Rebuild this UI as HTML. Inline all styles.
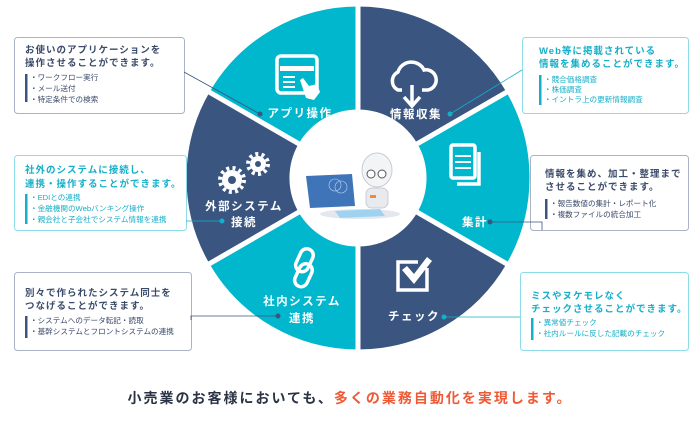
<!DOCTYPE html>
<html><head><meta charset="utf-8"><style>
html,body{margin:0;padding:0;background:#fff;}
svg{display:block;font-family:"Liberation Sans","Noto Sans CJK JP",sans-serif;}
.lab{fill:#fff;font-size:11.5px;font-weight:bold;letter-spacing:1.5px;text-anchor:middle;}
.hn{fill:#3a4a6a;font-size:9.5px;font-weight:bold;letter-spacing:1px;}
.ht{fill:#14afc8;font-size:9.5px;font-weight:bold;letter-spacing:1px;}
.bn{fill:#3a4a6a;font-size:7.6px;}
.bt{fill:#14afc8;font-size:7.6px;}
</style></head><body>
<svg width="700" height="429" viewBox="0 0 700 429">
<g stroke="#fff" stroke-width="5" stroke-linejoin="round">
<path d="M508.7,91 A174,174 0 0 0 358,4 L358,112 A66,66 0 0 1 415.2,145 Z" fill="#3a5680"/>
<path d="M358,4 A174,174 0 0 0 207.3,91 L300.8,145 A66,66 0 0 1 358,112 Z" fill="#00b7cd"/>
<path d="M207.3,91 A174,174 0 0 0 207.3,265 L300.8,211 A66,66 0 0 1 300.8,145 Z" fill="#3a5680"/>
<path d="M207.3,265 A174,174 0 0 0 358,352 L358,244 A66,66 0 0 1 300.8,211 Z" fill="#00b7cd"/>
<path d="M358,352 A174,174 0 0 0 508.7,265 L415.2,211 A66,66 0 0 1 358,244 Z" fill="#3a5680"/>
<path d="M508.7,265 A174,174 0 0 0 508.7,91 L415.2,145 A66,66 0 0 1 415.2,211 Z" fill="#00b7cd"/>
</g>
<circle cx="357" cy="178" r="66" fill="#fff"/>
<ellipse cx="360" cy="214" rx="40" ry="5" fill="#e3e8ee"/>
<polygon points="306,176 352,174 355,206 310,208" fill="#3f74b8"/>
<circle cx="335" cy="185" r="6" fill="none" stroke="#bcd6ee" stroke-width="0.6"/>
<circle cx="341" cy="187" r="6" fill="none" stroke="#bcd6ee" stroke-width="0.6"/>
<polygon points="335,211 380,209 385,216 340,218" fill="#9fd2f0"/>
<ellipse cx="377" cy="170" rx="15" ry="17" fill="#f2f4f6" stroke="#c8ccd2" stroke-width="1"/>
<circle cx="371" cy="174" r="4" fill="#fff" stroke="#555" stroke-width="1"/>
<circle cx="382" cy="174" r="4" fill="#fff" stroke="#555" stroke-width="1"/>
<rect x="366" y="188" width="22" height="20" rx="6" fill="#e8eaee" stroke="#c8ccd2"/>
<rect x="370" y="195" width="6" height="3" fill="#f08a3a"/>
<g fill="none" stroke="#fff" stroke-width="3.5">
<rect x="277" y="56" width="40" height="37" rx="4"/>
<path d="M412,105 V85 M404,97 L412,106 L420,97"/>
<path d="M402,90 H398 A10,10 0 0 1 398,72 A14,14 0 0 1 424,70 A9,9 0 0 1 428,90 H422"/>
<rect x="451" y="145" width="24" height="33" rx="2"/>
<path d="M479,152 V184 H457"/>
<rect x="298" y="248" width="13" height="24" rx="6.5" transform="rotate(25 304 260)"/>
<rect x="297" y="263" width="13" height="24" rx="6.5" transform="rotate(25 303 275)"/>
<path d="M427,268 V290 H398 V262 H418"/>
</g>
<g fill="#fff">
<rect x="280" y="66" width="34" height="5"/>
<rect x="283" y="76" width="12" height="2"/><rect x="283" y="81" width="12" height="2"/><rect x="283" y="86" width="12" height="2"/>
<path d="M300,80 l3,-2 l6,8 l8,-2 l3,8 l-6,8 l-8,-2 z"/>
<rect x="455" y="155" width="16" height="2"/><rect x="455" y="161" width="16" height="2"/><rect x="455" y="167" width="16" height="2"/>
<path d="M402,270 l5,-4 l7,8 l13,-17 l5,4 l-18,23 z"/>
<circle cx="232" cy="180" r="10"/><circle cx="258" cy="164" r="8"/>
</g>
<circle cx="232" cy="180" r="4" fill="#3a5680"/><circle cx="258" cy="164" r="3" fill="#3a5680"/>
<g stroke="#fff" stroke-width="4" stroke-dasharray="3 3.3" fill="none">
<circle cx="232" cy="180" r="12"/><circle cx="258" cy="164" r="10"/>
</g>
<text class="lab" x="300" y="117">アプリ操作</text>
<text class="lab" x="416" y="118">情報収集</text>
<text class="lab" x="244" y="210">外部システム</text>
<text class="lab" x="244" y="226">接続</text>
<text class="lab" x="475" y="226">集計</text>
<text class="lab" x="302" y="305">社内システム</text>
<text class="lab" x="302" y="322">連携</text>
<text class="lab" x="414" y="320">チェック</text>
<g fill="#fff" stroke-width="1">
<rect x="14.5" y="37.5" width="170" height="76" rx="3" stroke="#a8b3c6"/>
<rect x="14.5" y="155.5" width="172" height="75" rx="3" stroke="#8fdbe8"/>
<rect x="14.5" y="272.5" width="177" height="78" rx="3" stroke="#a8b3c6"/>
<rect x="522.5" y="37.5" width="166" height="76" rx="3" stroke="#8fdbe8"/>
<rect x="530.5" y="155.5" width="158" height="75" rx="3" stroke="#a8b3c6"/>
<rect x="520.5" y="272.5" width="168" height="78" rx="3" stroke="#8fdbe8"/>
</g>
<g stroke-width="0.8" fill="none">
<path d="M184,72 L260,114" stroke="#3a5680"/>
<path d="M186,221 H222" stroke="#14afc8"/>
<path d="M191,320 V316 H278" stroke="#3a5680"/>
<path d="M522,70 L450,114" stroke="#14afc8"/>
<path d="M490,222 H542 V230" stroke="#3a5680"/>
<path d="M444,317 H520" stroke="#14afc8"/>
</g>
<g>
<circle cx="260" cy="114" r="2.5" fill="#3a5680"/>
<circle cx="222" cy="221" r="2.5" fill="#14afc8"/>
<circle cx="278" cy="316" r="2.5" fill="#3a5680"/>
<circle cx="450" cy="114" r="2.5" fill="#14afc8"/>
<circle cx="490" cy="222" r="2.5" fill="#3a5680"/>
<circle cx="444" cy="317" r="2.5" fill="#14afc8"/>
</g>
<text class="hn" x="25" y="53">お使いのアプリケーションを</text>
<text class="hn" x="25" y="66">操作させることができます。</text>
<rect x="25" y="74" width="2.5" height="28" fill="#3a5680"/>
<text class="bn" x="30" y="80">・ワークフロー実行</text>
<text class="bn" x="30" y="91">・メール送付</text>
<text class="bn" x="30" y="102">・特定条件での検索</text>

<text class="ht" x="25" y="173">社外のシステムに接続し、</text>
<text class="ht" x="25" y="187">連携・操作することができます。</text>
<rect x="25" y="194" width="2.5" height="30" fill="#14afc8"/>
<text class="bt" x="30" y="200">・EDIとの連携</text>
<text class="bt" x="30" y="211">・金融機関のWebバンキング操作</text>
<text class="bt" x="30" y="222">・親会社と子会社でシステム情報を連携</text>

<text class="hn" x="25" y="296">別々で作られたシステム同士を</text>
<text class="hn" x="25" y="309">つなげることができます。</text>
<rect x="25" y="316" width="2.5" height="22" fill="#3a5680"/>
<text class="bn" x="30" y="323">・システムへのデータ転記・読取</text>
<text class="bn" x="30" y="334">・基幹システムとフロントシステムの連携</text>

<text class="ht" x="539" y="54">Web等に掲載されている</text>
<text class="ht" x="539" y="67">情報を集めることができます。</text>
<rect x="539" y="75" width="2.5" height="30" fill="#14afc8"/>
<text class="bt" x="544" y="82">・競合価格調査</text>
<text class="bt" x="544" y="92">・株価調査</text>
<text class="bt" x="544" y="102">・イントラ上の更新情報調査</text>

<text class="hn" x="545" y="177">情報を集め、加工・整理まで</text>
<text class="hn" x="545" y="190">させることができます。</text>
<rect x="545" y="199" width="2.5" height="20" fill="#3a5680"/>
<text class="bn" x="550" y="206">・報告数値の集計・レポート化</text>
<text class="bn" x="550" y="217">・複数ファイルの統合加工</text>

<text class="ht" x="531" y="299">ミスやヌケモレなく</text>
<text class="ht" x="531" y="312">チェックさせることができます。</text>
<rect x="531" y="318" width="2.5" height="22" fill="#14afc8"/>
<text class="bt" x="536" y="325">・異常値チェック</text>
<text class="bt" x="536" y="336">・社内ルールに反した記載のチェック</text>

<text x="350" y="403" text-anchor="middle" font-size="14" font-weight="bold" letter-spacing="2" fill="#2a3344">小売業のお客様においても、<tspan fill="#ef5a36">多くの業務自動化を実現します。</tspan></text>
</svg>
</body></html>
